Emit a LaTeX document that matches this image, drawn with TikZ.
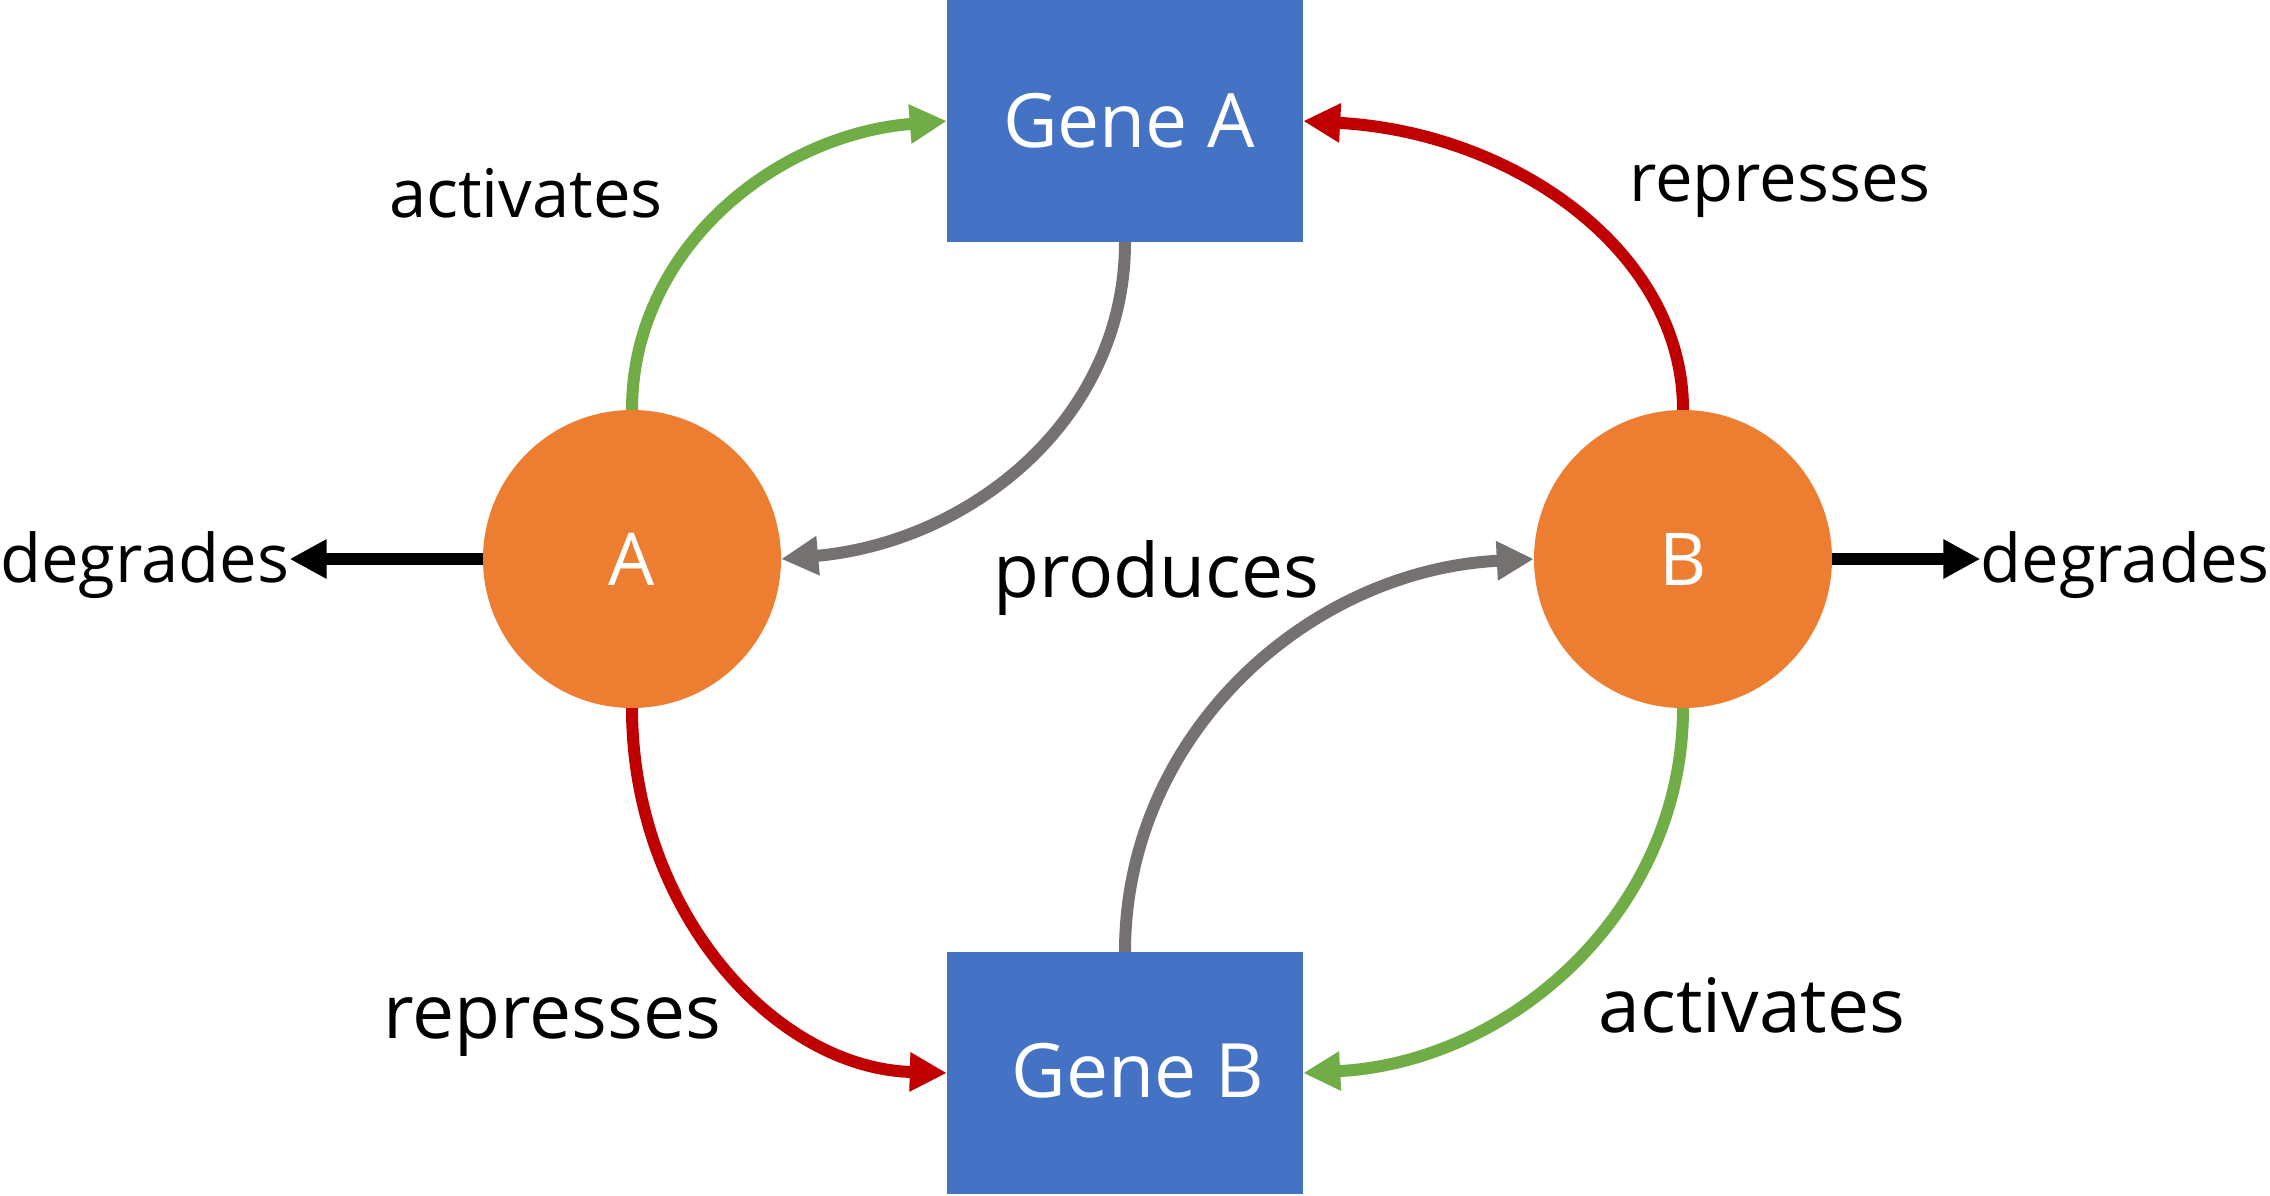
\documentclass[tikz,border=0pt]{standalone}
\usepackage{fontspec}
\setmainfont{Open Sans}
\usetikzlibrary{arrows.meta}
\definecolor{geneblue}{HTML}{4472C4}
\definecolor{protorange}{HTML}{ED7D31}
\definecolor{actgreen}{HTML}{70AD47}
\definecolor{repred}{HTML}{C00000}
\definecolor{prodgray}{HTML}{767171}
\tikzset{
  genebox/.style={fill=geneblue, draw=none, minimum width=356pt, minimum height=242pt, inner sep=0pt, text=white, font=\fontsize{75}{90}\selectfont},
  protein/.style={circle, fill=protorange, draw=none, minimum size=298pt, inner sep=0pt, text=white, font=\fontsize{73}{88}\selectfont},
  lbl/.style={inner sep=0pt, text=black, anchor=base, font=\fontsize{67}{80}\selectfont},
  biglbl/.style={lbl, font=\fontsize{75}{90}\selectfont},
  link/.style={line width=12pt, -{Triangle[length=37pt,width=37pt]}},
  actlink/.style={link, draw=actgreen},
  replink/.style={link, draw=repred},
  prodlink/.style={link, draw=prodgray},
  deglink/.style={link, draw=black}
}
\begin{document}
\begin{tikzpicture}[x=1pt,y=-1pt]
\useasboundingbox (0,0) rectangle (2270,1195);
\node[genebox] (GA) at (1125,121) {\hspace*{8pt}\raisebox{-4pt}{Gene A}};
\node[genebox] (GB) at (1125,1073) {\hspace*{26pt}\raisebox{5pt}{Gene B}};
\node[protein] (A) at (632,559) {A};
\node[protein] (B) at (1683,559) {B};
\node[lbl] (actTL) at (526,217) {activates};
\node[lbl] (repTR) at (1780,201) {represses};
\node[biglbl] (prod) at (1156,597) {produces};
\node[biglbl] (repBL) at (552,1038) {represses};
\node[biglbl] (actBR) at (1752,1032) {activates};
\node[lbl, anchor=base west] (degL) at (0,582) {degrades};
\node[lbl, anchor=base east] (degR) at (2270,582) {degrades};
\draw[actlink] (A.north) .. controls (632,251) and (773,135) .. (GA.west);
\draw[prodlink] (GA.south) .. controls (1125,418) and (972,542) .. (A.east);
\draw[replink] (B.north) .. controls (1683,251) and (1513,132) .. (GA.east);
\draw[prodlink] (GB.north) .. controls (1125,735) and (1308,570) .. (B.west);
\draw[replink] (A.south) .. controls (632,909) and (773,1068) .. (GB.west);
\draw[actlink] (B.south) .. controls (1683,909) and (1513,1062) .. (GB.east);
\draw[deglink] (A.west) -- (degL.east |- A.west);
\draw[deglink] (B.east) -- (degR.west |- B.east);
\end{tikzpicture}
\end{document}
